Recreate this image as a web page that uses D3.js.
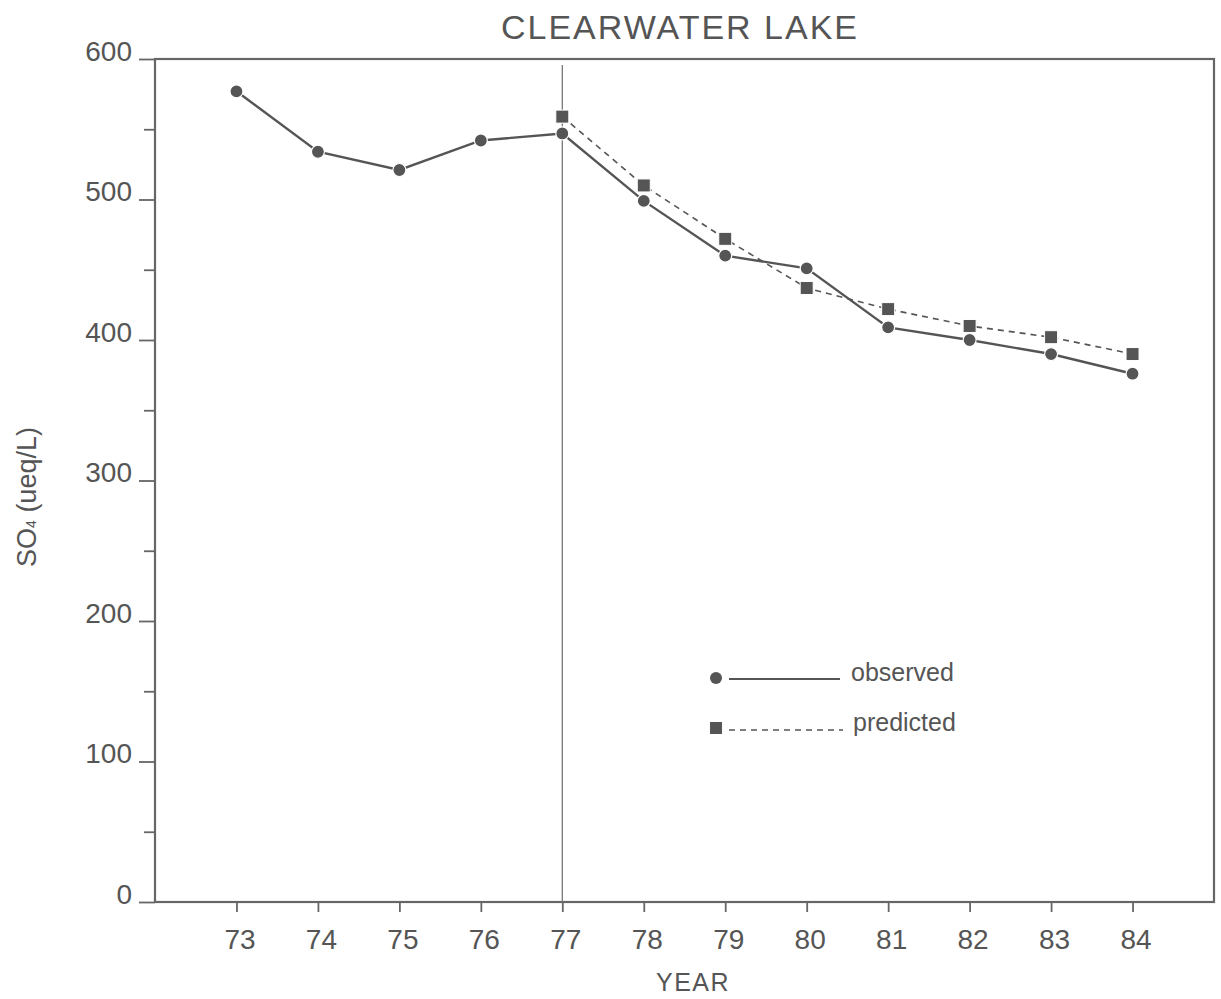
<!DOCTYPE html>
<html><head><meta charset="utf-8">
<script src="https://cdn.jsdelivr.net/npm/d3@7/dist/d3.min.js"></script>
<style>body{margin:0;background:#fff}svg{display:block}text{font-family:"Liberation Sans",Arial,sans-serif;fill:#555}</style>
</head><body><svg id="c" width="1221" height="999"></svg>
<script>
const years = [73,74,75,76,77,78,79,80,81,82,83,84];
const observed = [577,534,521,542,547,499,460,451,409,400,390,376];
const predYears = [77,78,79,80,81,82,83,84];
const predicted = [559,510,472,437,422,410,402,390];
const yTicks = d3.range(0,601,50);
const xTicks = years;

const svg = d3.select("#c");
const col = "#555";
const x = d3.scaleLinear().domain([72,85]).range([155,1214]);
const y = d3.scaleLinear().domain([0,600]).range([902,59]);

// frame
svg.append("rect").attr("x",x(72)).attr("y",y(600)).attr("width",x(85)-x(72)).attr("height",y(0)-y(600))
  .attr("fill","none").attr("stroke","#666").attr("stroke-width",2.2);

// y axis
const ya = svg.append("g").attr("transform",`translate(${x(72)},0)`)
  .call(d3.axisLeft(y).tickValues(yTicks).tickFormat(d=>d%100===0?d:"").tickSize(16).tickPadding(7));
ya.select(".domain").remove();
ya.selectAll(".tick line").attr("stroke","#666").attr("stroke-width",1.8).attr("x2",d=>d%100===0?-16:-11).attr("x1",0);
ya.selectAll(".tick text").attr("font-size",28).attr("fill",col).attr("dy","0.18em").attr("font-family","Liberation Sans, Arial, sans-serif")
  .attr("transform","translate(0,-4)");

// x axis
const xa = svg.append("g").attr("transform",`translate(0,${y(0)})`)
  .call(d3.axisBottom(x).tickValues(xTicks).tickSize(10).tickPadding(17));
xa.select(".domain").remove();
xa.selectAll(".tick line").attr("stroke","#666").attr("stroke-width",1.8);
xa.selectAll(".tick text").attr("font-size",28).attr("fill",col).attr("dx","3").attr("font-family","Liberation Sans, Arial, sans-serif");

// vertical divider at 77
svg.append("line").attr("x1",x(77)).attr("x2",x(77)).attr("y1",65).attr("y2",y(0))
  .attr("stroke","#777").attr("stroke-width",1.3);

// lines
const predData = predYears.map((d,i)=>[d,predicted[i]]);
const obsData = years.map((d,i)=>[d,observed[i]]);
const line = d3.line().x(d=>x(d[0])).y(d=>y(d[1]));
svg.append("path").attr("d",line(predData)).attr("fill","none").attr("stroke",col)
  .attr("stroke-width",1.6).attr("stroke-dasharray","6,5");
svg.append("path").attr("d",line(obsData)).attr("fill","none").attr("stroke",col).attr("stroke-width",2.4);

// markers
svg.selectAll("rect.p").data(predData).enter().append("rect").attr("class","p")
  .attr("x",d=>x(d[0])-6.5).attr("y",d=>y(d[1])-6.5).attr("width",13).attr("height",13)
  .attr("fill","#555").attr("stroke","#fff").attr("stroke-width",1);
svg.selectAll("circle.o").data(obsData).enter().append("circle").attr("class","o")
  .attr("cx",d=>x(d[0])).attr("cy",d=>y(d[1])).attr("r",6.5)
  .attr("fill","#555").attr("stroke","#fff").attr("stroke-width",1.2);

// title & axis titles
svg.append("text").attr("x",680).attr("y",39).attr("text-anchor","middle").attr("font-size",34)
  .attr("letter-spacing","2").text("CLEARWATER LAKE");
svg.append("text").attr("x",693).attr("y",991).attr("text-anchor","middle").attr("font-size",25)
  .attr("letter-spacing","1.5").text("YEAR");
const yt = svg.append("text").attr("transform","translate(36,497) rotate(-90)").attr("text-anchor","middle").attr("font-size",27);
yt.append("tspan").text("SO");
yt.append("tspan").attr("font-size",14).attr("dy","0").text("4");
yt.append("tspan").attr("dy","0").text(" (ueq/L)");

// legend
const lg = svg.append("g");
lg.append("line").attr("x1",729).attr("x2",840).attr("y1",679).attr("y2",679).attr("stroke",col).attr("stroke-width",2);
lg.append("circle").attr("cx",716).attr("cy",678).attr("r",6).attr("fill","#555");
lg.append("text").attr("x",851).attr("y",681).attr("font-size",25).text("observed");
lg.append("line").attr("x1",729).attr("x2",843).attr("y1",730).attr("y2",730).attr("stroke",col).attr("stroke-width",1.5).attr("stroke-dasharray","6,5");
lg.append("rect").attr("x",710).attr("y",722).attr("width",12).attr("height",12).attr("fill","#555");
lg.append("text").attr("x",853).attr("y",731).attr("font-size",25).text("predicted");
</script></body></html>
